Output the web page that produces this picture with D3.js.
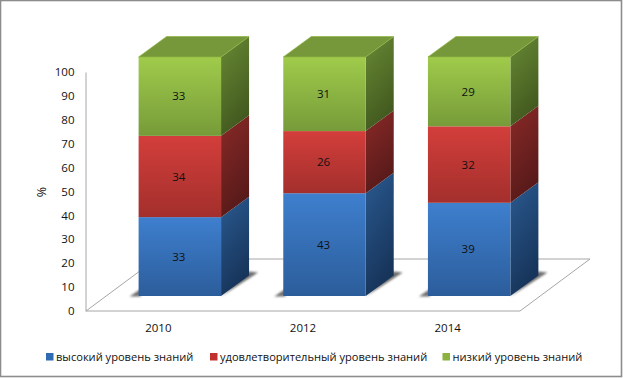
<!DOCTYPE html>
<html lang="ru">
<head>
  <meta charset="UTF-8">
  <title>Chart</title>
  <script src="https://cdn.jsdelivr.net/npm/d3@7"></script>
  <style>
    html, body { margin: 0; padding: 0; background: #fff; }
    svg { display: block; }
    text { font-family: "Open Sans", "Noto Sans", sans-serif; fill: #111; }
  </style>
</head>
<body>
  <svg width="623" height="378"></svg>
  <script>
    // данные
    const years = ['2010', '2012', '2014'];
    const high = [33, 43, 39];
    const medium = [34, 26, 32];
    const low = [33, 31, 29];
    const seriesNames = ['высокий уровень знаний', 'удовлетворительный уровень знаний', 'низкий уровень знаний'];
    const yTicks = [0, 10, 20, 30, 40, 50, 60, 70, 80, 90, 100];

    const rows = years.map((y, i) => ({ year: y, high: high[i], medium: medium[i], low: low[i] }));
    const keys = ['high', 'medium', 'low'];

    const chartW = 623, chartH = 378;
    const plotLeft = 86, plotRight = 520, plotBottom = 311, plotTop = 72;
    // глубина пола и столбика
    const floorDx = 70, floorDy = -52;
    const barDx = 28, barDy = -20.5;
    const shiftX = 21.5, shiftY = -15;

    const colors = [
      { front: ['#3e7fce', '#2c5d9b'], side: ['#2a5a90', '#17345a'], top: '#2f63a3', legend: '#2f6bb3' },
      { front: ['#d33e3b', '#a32f2c'], side: ['#8a2a28', '#571a19'], top: '#a32f2c', legend: '#c0322f' },
      { front: ['#a0cb4b', '#769b39'], side: ['#688a34', '#42591f'], top: '#76983a', legend: '#8cb340' }
    ];

    const svg = d3.select('svg');
    const defs = svg.append('defs');

    colors.forEach((c, i) => {
      const f = defs.append('linearGradient').attr('id', 'front' + i)
        .attr('x1', 0).attr('y1', 0).attr('x2', 0).attr('y2', 1);
      f.append('stop').attr('offset', 0).attr('stop-color', c.front[0]);
      f.append('stop').attr('offset', 1).attr('stop-color', c.front[1]);
      const s = defs.append('linearGradient').attr('id', 'side' + i)
        .attr('x1', 0).attr('y1', 0).attr('x2', 0.35).attr('y2', 1);
      s.append('stop').attr('offset', 0).attr('stop-color', c.side[0]);
      s.append('stop').attr('offset', 1).attr('stop-color', c.side[1]);
    });
    defs.append('filter').attr('id', 'blur')
      .attr('x', '-20%').attr('y', '-40%').attr('width', '140%').attr('height', '180%')
      .append('feGaussianBlur').attr('stdDeviation', 0.9);

    const xScale = d3.scaleBand().domain(years).range([plotLeft, plotRight]).paddingInner(0.43).paddingOuter(0.215);
    const yScale = d3.scaleLinear().domain([0, 100]).range([plotBottom, plotTop]);

    // рамка
    svg.append('rect')
      .attr('x', 0.5).attr('y', 0.5).attr('width', chartW - 2).attr('height', chartH - 2)
      .attr('fill', '#fff').attr('stroke', '#8c8c8c').attr('stroke-width', 1.6);

    // пол
    svg.append('path')
      .attr('d', d3.line()([[plotLeft, plotBottom], [plotRight, plotBottom], [plotRight + floorDx, plotBottom + floorDy], [plotLeft + floorDx, plotBottom + floorDy]]) + 'Z')
      .attr('fill', '#fff').attr('stroke', '#a6a6a6').attr('stroke-width', 1);

    // ось Y
    const yAxis = svg.append('g')
      .attr('transform', 'translate(' + (plotLeft - 0.5) + ',0)')
      .call(d3.axisLeft(yScale).tickValues(yTicks).tickSize(0).tickPadding(11));
    yAxis.select('.domain').attr('stroke', '#a6a6a6');
    yAxis.selectAll('text').attr('font-size', 11.5).style('font-family', '"Open Sans", sans-serif');

    // ось X
    const xAxis = svg.append('g')
      .attr('transform', 'translate(0,' + plotBottom + ')')
      .call(d3.axisBottom(xScale).tickSize(0).tickPadding(13));
    xAxis.select('.domain').remove();
    xAxis.selectAll('text').attr('font-size', 11.5).style('font-family', '"Open Sans", sans-serif');

    // подпись оси
    svg.append('text')
      .attr('transform', 'translate(46,192) rotate(-90)')
      .attr('text-anchor', 'middle')
      .attr('font-size', 12.5)
      .text('%');

    // столбики
    const stacked = d3.stack().keys(keys)(rows);
    const bw = xScale.bandwidth();

    const bars = svg.selectAll('.bar').data(rows).enter().append('g')
      .attr('class', 'bar')
      .attr('transform', d => 'translate(' + (xScale(d.year) + shiftX) + ',' + shiftY + ')');

    // тень на полу
    bars.append('path')
      .attr('d', d3.line()([
        [-9, yScale(0) + 0.5], [2, yScale(0) + 0.5], [2, yScale(0) - 7]
      ]) + 'Z')
      .attr('fill', '#6e6e6e').attr('filter', 'url(#blur)');
    bars.append('path')
      .attr('d', d3.line()([
        [bw, yScale(0) + 0.5], [bw + barDx + 9, yScale(0) + barDy - 3], [bw + barDx, yScale(0) + barDy - 4]
      ]) + 'Z')
      .attr('fill', '#6e6e6e').attr('filter', 'url(#blur)');

    stacked.forEach((layer, li) => {
      const groups = bars.data(layer).append('g');
      // бок
      groups.append('path')
        .attr('d', d => {
          const y0 = yScale(d[0]), y1 = yScale(d[1]);
          return d3.line()([[bw, y0], [bw + barDx, y0 + barDy], [bw + barDx, y1 + barDy], [bw, y1]]) + 'Z';
        })
        .attr('fill', 'url(#side' + li + ')');
      // перед
      groups.append('rect')
        .attr('x', 0).attr('width', bw)
        .attr('y', d => yScale(d[1]))
        .attr('height', d => yScale(d[0]) - yScale(d[1]))
        .attr('fill', 'url(#front' + li + ')');
      groups.append('text')
        .attr('x', bw / 2 - 1)
        .attr('y', d => (yScale(d[0]) + yScale(d[1])) / 2 + 4)
        .attr('text-anchor', 'middle')
        .attr('font-size', 11.5)
        .text(d => d[1] - d[0]);
    });

    // верхняя грань
    bars.data(rows).append('path')
      .attr('d', d3.line()([[0, yScale(100)], [bw, yScale(100)], [bw + barDx, yScale(100) + barDy], [barDx, yScale(100) + barDy]]) + 'Z')
      .attr('fill', colors[2].top)
      .attr('stroke', '#8fb443').attr('stroke-width', 0.7).attr('stroke-linejoin', 'round');

    // легенда
    const legendX = [46, 210, 442.5];
    const legend = svg.selectAll('.legend').data(seriesNames).enter().append('g')
      .attr('class', 'legend')
      .attr('transform', (d, i) => 'translate(' + legendX[i] + ',357)');
    legend.append('rect')
      .attr('x', 0).attr('y', -4).attr('width', 7.5).attr('height', 7.5)
      .attr('fill', (d, i) => colors[i].legend);
    legend.append('text')
      .attr('x', 10).attr('y', 3.5)
      .attr('font-size', 11.1)
      .text(d => d);
  </script>
</body>
</html>
